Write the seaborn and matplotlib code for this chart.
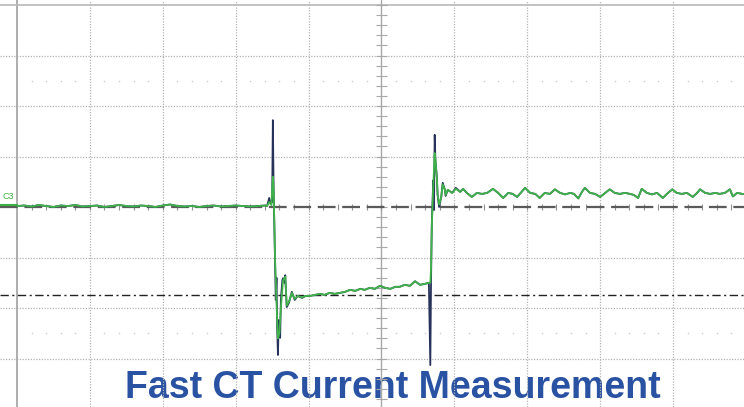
import numpy as np
import pandas as pd
from matplotlib import pyplot as plt
import seaborn as sns

# trace values, in scope divisions (time div, amplitude div)
base_t = [0.0, 0.1, 0.2, 0.3, 0.4, 0.5, 0.6, 0.7, 0.8, 0.9, 1.0, 1.1, 1.2, 1.3, 1.4, 1.5, 1.6,
          1.7, 1.8, 1.9, 2.0, 2.1, 2.2, 2.3, 2.4, 2.5, 2.6, 2.7, 2.8, 2.9, 3.0, 3.1, 3.2, 3.3, 3.4]
base_v = [0.02, 0.03, 0.01, 0.04, 0.02, 0.00, 0.03, 0.02, 0.04, 0.01, 0.02, 0.03, 0.00, 0.02,
          0.04, 0.02, 0.01, 0.03, 0.02, 0.00, 0.03, 0.05, 0.02, 0.01, 0.02, 0.00, 0.02, 0.03,
          0.01, 0.02, 0.03, 0.02, 0.01, 0.02, 0.03]

edge1_raw_t = [3.43, 3.46, 3.48, 3.50, 3.51, 3.52, 3.54, 3.55, 3.56, 3.57, 3.58, 3.59, 3.61,
               3.62, 3.64, 3.65, 3.67, 3.68, 3.70, 3.73, 3.77, 3.81, 3.85, 3.91, 3.96, 4.02]
edge1_raw_v = [0.02, 0.18, 0.06, 0.10, 1.72, 0.40, -1.05, -1.84, -1.40, -2.44, -2.93, -2.24,
               -2.59, -1.84, -1.45, -1.41, -1.50, -1.35, -1.98, -1.90, -1.68, -1.84, -1.76,
               -1.80, -1.76, -1.76]
edge1_filt_t = [3.43, 3.46, 3.49, 3.51, 3.52, 3.54, 3.56, 3.58, 3.60, 3.62, 3.65, 3.68, 3.70,
                3.73, 3.77, 3.81, 3.85, 3.91, 3.96, 4.02]
edge1_filt_v = [0.02, 0.10, 0.04, 0.60, 0.38, -1.00, -1.90, -2.60, -2.50, -2.00, -1.45, -1.38,
                -1.95, -1.88, -1.70, -1.82, -1.76, -1.79, -1.76, -1.76]

low_t = [4.09, 4.16, 4.22, 4.29, 4.36, 4.43, 4.50, 4.57, 4.64, 4.71, 4.77, 4.84, 4.91, 4.98,
         5.05, 5.12, 5.19, 5.25, 5.32, 5.39, 5.46, 5.53, 5.60, 5.65]
low_v = [-1.74, -1.72, -1.74, -1.70, -1.72, -1.70, -1.68, -1.64, -1.66, -1.62, -1.64, -1.60,
         -1.62, -1.56, -1.60, -1.62, -1.58, -1.58, -1.54, -1.56, -1.47, -1.54, -1.52, -1.50]

edge2_raw_t = [5.67, 5.68, 5.69, 5.71, 5.72, 5.73, 5.74, 5.76, 5.77, 5.79, 5.82, 5.84, 5.87,
               5.88, 5.91, 5.97, 6.02]
edge2_raw_v = [-3.13, -1.45, -0.36, 0.53, -0.06, 1.43, 0.93, 0.59, 0.24, 0.00, 0.20, 0.48,
               0.34, 0.22, 0.34, 0.28, 0.38]
edge2_filt_t = [5.67, 5.68, 5.69, 5.71, 5.73, 5.74, 5.76, 5.77, 5.79, 5.82, 5.84, 5.87, 5.88,
                5.91, 5.97, 6.02]
edge2_filt_v = [-1.50, -1.20, -0.40, 0.40, 1.07, 0.95, 0.55, 0.25, 0.05, 0.20, 0.45, 0.34,
                0.24, 0.34, 0.28, 0.36]

high_t = [6.08, 6.12, 6.17, 6.24, 6.31, 6.38, 6.45, 6.53, 6.60, 6.67, 6.74, 6.80, 6.86, 6.91,
          6.97, 7.04, 7.11, 7.17, 7.24, 7.31, 7.38, 7.45, 7.52, 7.59, 7.64, 7.70, 7.75, 7.79,
          7.86, 7.93, 8.00, 8.07, 8.13, 8.20, 8.27, 8.34, 8.41, 8.46, 8.52, 8.57, 8.64, 8.71,
          8.78, 8.86, 8.93, 8.99, 9.05, 9.12, 9.19, 9.27, 9.33, 9.37, 9.44, 9.51, 9.58, 9.64,
          9.71, 9.78, 9.82, 9.88, 9.95, 9.97]
high_v = [0.30, 0.36, 0.28, 0.20, 0.28, 0.26, 0.28, 0.36, 0.28, 0.18, 0.28, 0.26, 0.20, 0.28,
          0.38, 0.28, 0.26, 0.18, 0.28, 0.26, 0.35, 0.28, 0.25, 0.28, 0.26, 0.17, 0.30, 0.38,
          0.28, 0.26, 0.20, 0.28, 0.35, 0.28, 0.26, 0.28, 0.26, 0.24, 0.18, 0.36, 0.28, 0.25,
          0.28, 0.18, 0.28, 0.35, 0.28, 0.26, 0.28, 0.20, 0.28, 0.35, 0.28, 0.26, 0.28, 0.26,
          0.28, 0.35, 0.21, 0.28, 0.26, 0.26]

ref_level = -1.74   # dash-dot cursor
title = "Fast CT Current Measurement"

raw = pd.DataFrame({"t": base_t + edge1_raw_t + low_t + edge2_raw_t + high_t,
                    "v": base_v + edge1_raw_v + low_v + edge2_raw_v + high_v})
filt = pd.DataFrame({"t": base_t + edge1_filt_t + low_t + edge2_filt_t + high_t,
                     "v": base_v + edge1_filt_v + low_v + edge2_filt_v + high_v})

sns.set_style("white")
plt.rcParams['font.family'] = ['Liberation Sans', 'DejaVu Sans']

fig = plt.figure(figsize=(7.44, 4.07), dpi=100)
ax = fig.add_axes([0, 0, 1, 1])
ax.set_xlim(-0.233, 9.973)
ax.set_ylim(-3.96, 4.10)
ax.axis('off')

grid = '#b4b4b4'
for x in range(1, 11):
    if x != 5:
        ax.axvline(x, color=grid, lw=0.9, ls=(0, (1, 1.2)), zorder=2)
for y in range(-3, 4):
    if y != 0:
        ax.axhline(y, color=grid, lw=0.9, ls=(0, (1, 1.2)), zorder=2)
ax.axvline(0, color='#a0a0a0', lw=1.2, zorder=2)
ax.axhline(4, color='#b8b8b8', lw=1.2, zorder=2)
ax.axvline(5, color='#a8a8a8', lw=1.0, zorder=2)

# minor ticks on the centre axes
yt = np.arange(-3.8, 4.01, 0.2)
ax.hlines(yt, 4.93, 5.07, color='#a8a8a8', lw=0.8, zorder=2)
xt = np.arange(0.2, 10.0, 0.2)
ax.vlines(xt, -0.06, 0.06, color='#909090', lw=0.8, zorder=2)

# faint dot rows
dots = [x for x in np.arange(0.2, 10.0, 0.2) if abs(x - round(x)) > 0.05]
for y in (2.5, -2.5):
    ax.scatter(dots, [y] * len(dots), s=1.5, color='#d0d0d0', zorder=2, linewidths=0)

ax.axhline(0, color='#5a5a5a', lw=1.6, ls=(0, (8, 3)), zorder=3)
ax.axhline(ref_level, color='#222222', lw=1.0, ls=(0, (6, 2.5, 1.5, 2.5)), zorder=3)

ax.text(0.003, 0.51, "C3", transform=ax.transAxes, color='#3cb043',
        fontsize=6.5, zorder=4)
ax.plot([-0.23, 0], [0.04, 0.04], color='#3cb043', lw=1.5, clip_on=False, zorder=4)

sns.lineplot(data=raw, x="t", y="v", sort=False, estimator=None, color='#27325a',
             lw=1.3, ax=ax, zorder=5)
sns.lineplot(data=filt, x="t", y="v", sort=False, estimator=None, color='#3fb34a',
             lw=1.3, ax=ax, zorder=6)

ax.text(0.528, 0.022, title, transform=fig.transFigure, ha='center', va='baseline',
        fontsize=27, fontweight='bold', color='#2a52a3', zorder=1)

fig.savefig('out.png', dpi=100)
